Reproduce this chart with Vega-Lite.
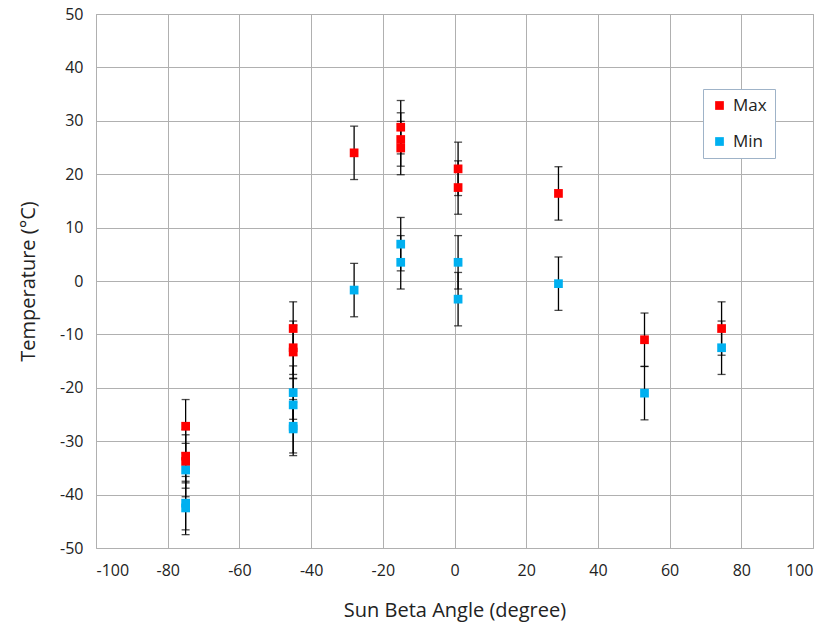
{
  "$schema": "https://vega.github.io/schema/vega-lite/v6.json",
  "width": 717,
  "height": 534,
  "autosize": "none",
  "padding": {"left": 96, "top": 14, "right": 19, "bottom": 84},
  "background": "white",
  "config": {
    "font": "Open Sans",
    "view": {"stroke": "#a6a6a6", "strokeWidth": 1},
    "axis": {
      "gridColor": "#b0b0b0",
      "gridWidth": 1,
      "domain": false,
      "ticks": false,
      "labelFontSize": 16,
      "labelColor": "#222222",
      "titleFontSize": 20,
      "titleFontWeight": "normal",
      "titleColor": "#222222",
      "labelFont": "Open Sans",
      "titleFont": "Open Sans",
      "labelExpr": "replace(datum.label, '\u2212', '-')"
    }
  },
  "data": {
    "values": [
      {"x": -75, "t": -27.2, "s": "Max", "e": 5},
      {"x": -75, "t": -32.8, "s": "Max", "e": 5},
      {"x": -75, "t": -33.8, "s": "Max", "e": 5},
      {"x": -45, "t": -8.9, "s": "Max", "e": 5},
      {"x": -45, "t": -12.5, "s": "Max", "e": 5},
      {"x": -45, "t": -13.3, "s": "Max", "e": 5},
      {"x": -28, "t": 24.0, "s": "Max", "e": 5},
      {"x": -15, "t": 28.8, "s": "Max", "e": 5},
      {"x": -15, "t": 26.5, "s": "Max", "e": 5},
      {"x": -15, "t": 24.9, "s": "Max", "e": 5},
      {"x": 1, "t": 21.0, "s": "Max", "e": 5},
      {"x": 1, "t": 17.5, "s": "Max", "e": 5},
      {"x": 29, "t": 16.4, "s": "Max", "e": 5},
      {"x": 53, "t": -11.0, "s": "Max", "e": 5},
      {"x": 74.5, "t": -8.9, "s": "Max", "e": 5},
      {"x": -75, "t": -35.4, "s": "Min", "e": 5},
      {"x": -75, "t": -41.6, "s": "Min", "e": 5},
      {"x": -75, "t": -42.5, "s": "Min", "e": 5},
      {"x": -45, "t": -20.9, "s": "Min", "e": 5},
      {"x": -45, "t": -23.2, "s": "Min", "e": 5},
      {"x": -45, "t": -27.2, "s": "Min", "e": 5},
      {"x": -45, "t": -27.7, "s": "Min", "e": 5},
      {"x": -28, "t": -1.7, "s": "Min", "e": 5},
      {"x": -15, "t": 6.9, "s": "Min", "e": 5},
      {"x": -15, "t": 3.5, "s": "Min", "e": 5},
      {"x": 1, "t": 3.5, "s": "Min", "e": 5},
      {"x": 1, "t": -3.4, "s": "Min", "e": 5},
      {"x": 29, "t": -0.5, "s": "Min", "e": 5},
      {"x": 53, "t": -21.0, "s": "Min", "e": 5},
      {"x": 74.5, "t": -12.5, "s": "Min", "e": 5}
    ]
  },
  "layer": [
    {
      "mark": {"type": "errorbar", "ticks": {"size": 8, "color": "black", "thickness": 1.3}, "rule": {"color": "black", "strokeWidth": 1.3}},
      "encoding": {
        "x": {"field": "x", "type": "quantitative", "scale": {"domain": [-100, 100], "nice": false}, "title": "Sun Beta Angle (degree)"},
        "y": {"field": "t", "type": "quantitative", "scale": {"domain": [-50, 50], "nice": false}, "title": "Temperature (°C)"},
        "yError": {"field": "e"}
      }
    },
    {
      "mark": {"type": "point", "shape": "square", "filled": true, "opacity": 1, "size": 76},
      "encoding": {
        "x": {
          "field": "x", "type": "quantitative",
          "scale": {"domain": [-100, 100], "nice": false},
          "title": "Sun Beta Angle (degree)",
          "axis": {"values": [-100, -80, -60, -40, -20, 0, 20, 40, 60, 80, 100], "labelPadding": 14, "titlePadding": 22}
        },
        "y": {
          "field": "t", "type": "quantitative",
          "scale": {"domain": [-50, 50], "nice": false},
          "title": "Temperature (°C)",
          "axis": {"values": [-50, -40, -30, -20, -10, 0, 10, 20, 30, 40, 50], "labelPadding": 13, "titlePadding": 21}
        },
        "color": {
          "field": "s", "type": "nominal",
          "scale": {"domain": ["Max", "Min"], "range": ["#FF0000", "#00B0F0"]},
          "legend": {
            "title": null,
            "orient": "none",
            "legendX": 607,
            "legendY": 75,
            "symbolType": "square",
            "symbolSize": 76,
            "symbolStrokeWidth": 0,
            "labelFontSize": 17,
            "labelFont": "Open Sans",
            "labelColor": "#222222",
            "rowPadding": 18,
            "padding": 8,
            "strokeColor": "#9fb3c8",
            "fillColor": "white",
            "labelOffset": 5
          }
        }
      }
    }
  ]
}
